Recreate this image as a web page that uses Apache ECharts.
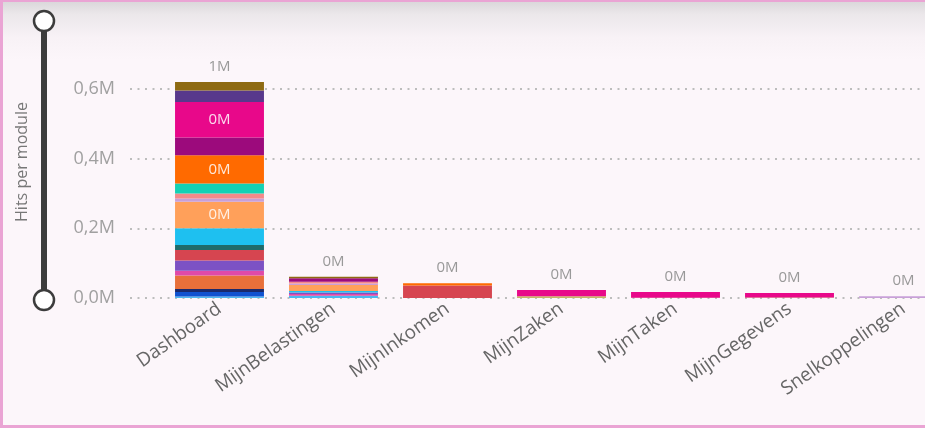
<!DOCTYPE html>
<html>
<head>
<meta charset="utf-8">
<script src="https://cdn.jsdelivr.net/npm/echarts@6/dist/echarts.min.js"></script>
<style>
  html, body { margin: 0; padding: 0; overflow: hidden; }
  #wrap {
    position: relative; width: 950px; height: 428px; overflow: hidden;
    background: linear-gradient(to bottom, #d8d5d8 0px, #ebe7ea 14px, #f8f2f6 38px, #fcf6fa 60px, #fcf6fa 100%);
  }
  #chart { position: absolute; left: 0; top: 0; width: 925px; height: 428px; }
  #frame {
    position: absolute; left: 0; top: 0; width: 950px; height: 428px; box-sizing: border-box;
    border-style: solid; border-color: #eaa4d4;
    border-width: 2px 0 3px 3px; pointer-events: none;
  }
</style>
</head>
<body>
<div id="wrap">
  <div id="chart"></div>
  <div id="frame"></div>
</div>
<script>
// categorieen en as
var categories = ["Dashboard", "MijnBelastingen", "MijnInkomen", "MijnZaken", "MijnTaken", "MijnGegevens", "Snelkoppelingen"];
var yTicks = [0, 200000, 400000, 600000];

// hits per groep (van onder naar boven in de stapel)
var g01 = [4000, 6500, 0, 0, 0, 0, 0];
var g02 = [13500, 0, 0, 0, 0, 0, 0];
var g03 = [8000, 0, 0, 0, 0, 0, 0];
var g04 = [39000, 0, 0, 0, 0, 0, 0];
var g05 = [14000, 5000, 0, 0, 0, 0, 0];
var g06 = [29000, 4500, 0, 0, 0, 0, 0];
var g07 = [30500, 0, 36000, 0, 0, 0, 0];
var g08 = [14000, 0, 0, 0, 0, 0, 0];
var g09 = [48000, 4000, 0, 0, 0, 0, 0];
var g10 = [76000, 17500, 0, 0, 0, 0, 0];
var g11 = [10000, 4000, 0, 0, 0, 0, 5000];
var g12 = [14000, 5000, 0, 0, 0, 0, 0];
var g13 = [28500, 0, 0, 0, 0, 0, 0];
var g14 = [81000, 0, 6500, 0, 0, 0, 0];
var g15 = [51000, 10500, 0, 0, 0, 0, 0];
var g16 = [0, 0, 0, 5000, 1000, 1500, 0];
var g17 = [102000, 0, 0, 18000, 16000, 12500, 0];
var g18 = [33500, 0, 0, 0, 0, 0, 0];
var g19 = [24000, 4000, 0, 0, 0, 0, 0];

var groups = [g01, g02, g03, g04, g05, g06, g07, g08, g09, g10, g11, g12, g13, g14, g15, g16, g17, g18, g19];
var colors = ["#4cb8f0", "#1052d0", "#1a2a6c", "#e8703a", "#e04aa8", "#7c52c4", "#d64550", "#1f6b6b", "#1ec0f0",
              "#ffa05a", "#c8a0d8", "#f58a8a", "#14d2b4", "#ff6a00", "#9c0a7c", "#c8b464", "#e8088a", "#58388c", "#8e6a12"];

var totals = categories.map(function (c, i) {
  return groups.reduce(function (sum, g) { return sum + g[i]; }, 0);
});

function fmtM(v) { return Math.round(v / 1e6) + "M"; }

var series = groups.map(function (data, k) {
  return {
    type: "bar",
    name: "Groep " + (k + 1),
    stack: "hits",
    xAxisIndex: 1,
    yAxisIndex: 1,
    data: data,
    clip: false,
    barCategoryGap: "22%",
    barGap: "-100%",
    itemStyle: { color: colors[k] },
    label: {
      show: true,
      position: "inside",
      color: "rgba(255,255,255,0.85)",
      fontSize: 15,
      formatter: function (p) { return p.value >= 60000 ? fmtM(p.value) : ""; }
    }
  };
});
series.push({
  type: "bar",
  name: "Totaal",
  xAxisIndex: 1,
  yAxisIndex: 1,
  data: totals,
  clip: false,
  itemStyle: { color: "transparent" },
  label: {
    show: true,
    position: "top",
    distance: 8,
    color: "#999",
    fontSize: 15,
    formatter: function (p) { return fmtM(p.value); }
  }
});

var chart = echarts.init(document.getElementById("chart"));
var option = {
  animation: false,
  textStyle: { fontFamily: "Open Sans" },
  grid: [
    { left: 130, right: 0, top: 89, bottom: 130, outerBoundsMode: "none" },
    { left: 162.5, width: 798, top: 89, bottom: 130, outerBoundsMode: "none" }
  ],
  xAxis: [
    { type: "value", gridIndex: 0, show: false },
    {
      type: "category", gridIndex: 1, data: categories,
      axisLine: { show: false }, axisTick: { show: false },
      axisLabel: { rotate: 35, margin: 9, fontSize: 19, color: "#666" }
    }
  ],
  yAxis: [
    {
      type: "value", gridIndex: 0,
      min: yTicks[0], max: yTicks[yTicks.length - 1], interval: yTicks[1] - yTicks[0],
      axisLine: { show: false }, axisTick: { show: false },
      axisLabel: {
        margin: 15, fontSize: 18, color: "#a0a0a0",
        formatter: function (v) { return (v / 1e6).toFixed(1).replace(".", ",") + "M"; }
      },
      splitLine: { lineStyle: { type: [2, 5.5], width: 2, color: "#bdbdbd" } }
    },
    {
      type: "value", gridIndex: 1, show: false,
      min: yTicks[0], max: yTicks[yTicks.length - 1],
      splitLine: { show: false }
    }
  ],
  graphic: [
    { type: "line", z: 10, shape: { x1: 44, y1: 21, x2: 44, y2: 300 }, style: { stroke: "#3c3c3c", lineWidth: 6 } },
    { type: "circle", z: 11, shape: { cx: 44, cy: 21, r: 10 }, style: { fill: "#fff", stroke: "#3c3c3c", lineWidth: 2.5 } },
    { type: "circle", z: 11, shape: { cx: 44, cy: 300, r: 10 }, style: { fill: "#fff", stroke: "#3c3c3c", lineWidth: 2.5 } },
    {
      type: "text", z: 10, x: 22, y: 162, rotation: Math.PI / 2,
      style: { text: "Hits per module", fontFamily: "Open Sans", fontSize: 16, fill: "#777", align: "center", verticalAlign: "middle" }
    }
  ],
  series: series
};
chart.setOption(option);
</script>
</body>
</html>
